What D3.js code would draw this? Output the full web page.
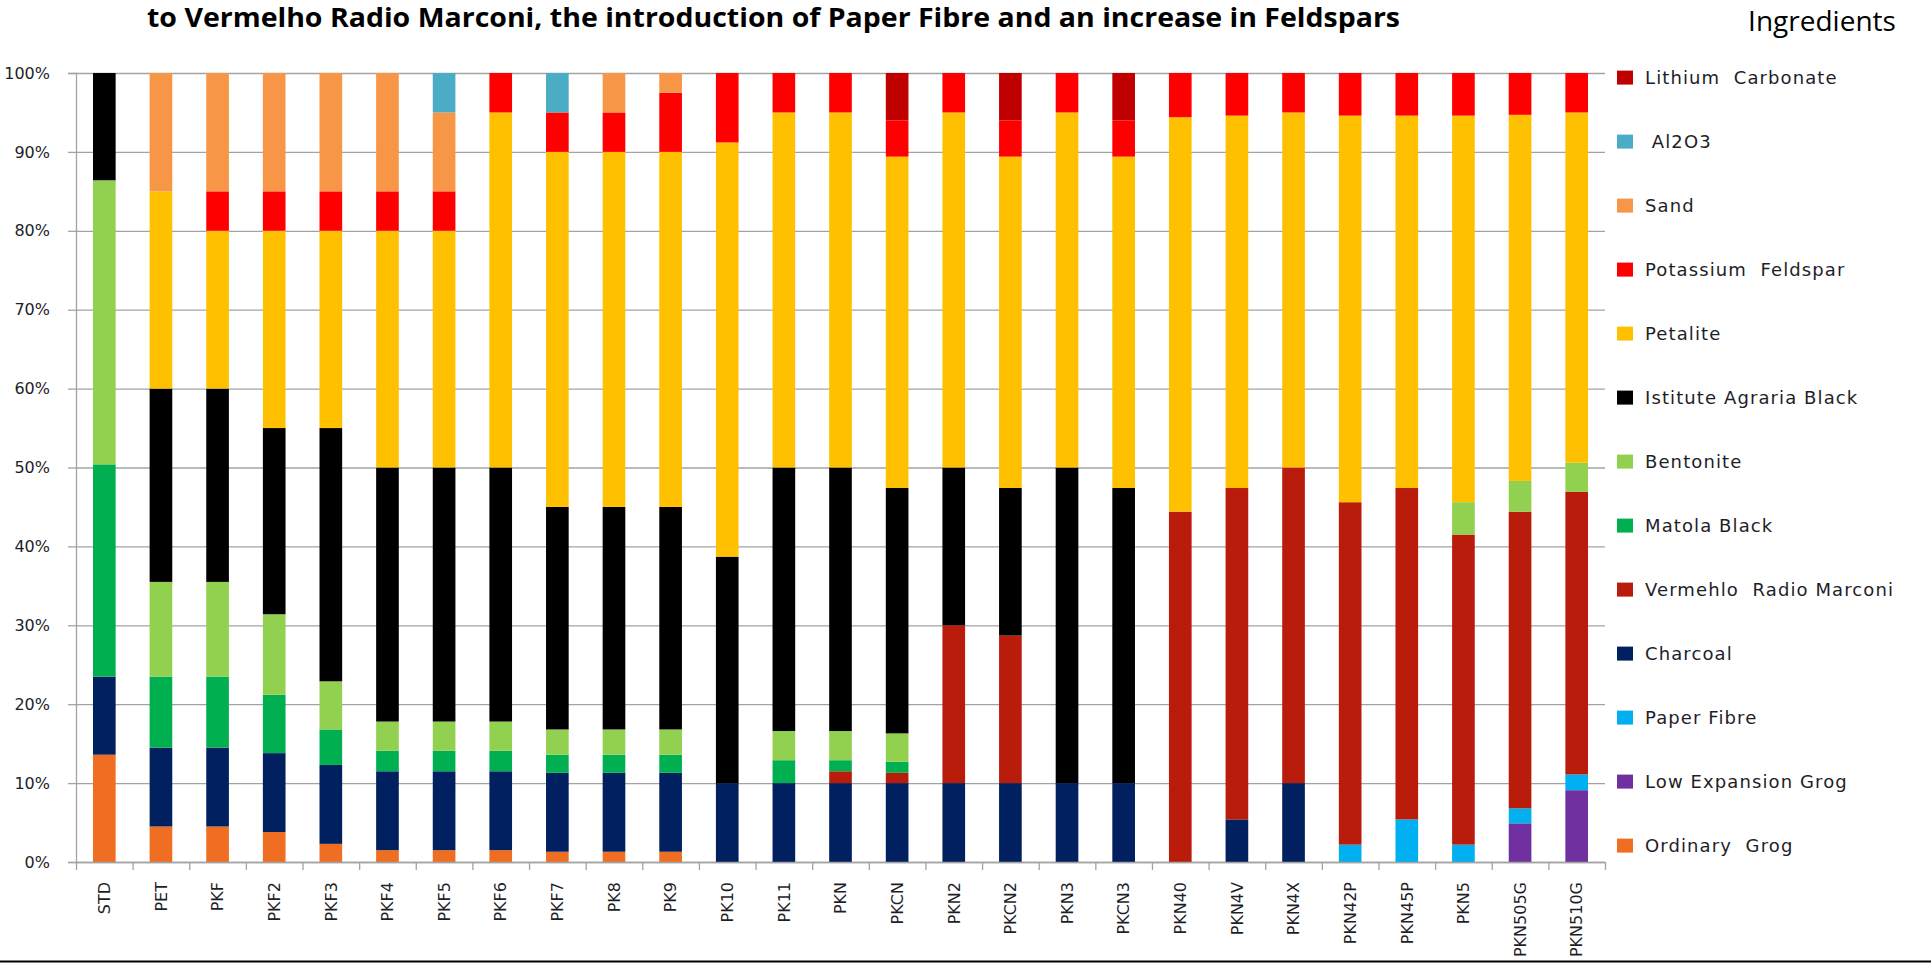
<!DOCTYPE html>
<html>
<head>
<meta charset="utf-8">
<script src="https://cdn.jsdelivr.net/npm/d3@7"></script>
<style>
  html, body { margin: 0; padding: 0; background: #fff; }
  svg { display: block; }
</style>
</head>
<body>
<svg id="chart" width="1931" height="963"></svg>
<script>
// Recipe names (one stacked bar each)
const categories = ["STD","PET","PKF","PKF2","PKF3","PKF4","PKF5","PKF6","PKF7","PK8","PK9","PK10","PK11",
  "PKN","PKCN","PKN2","PKCN2","PKN3","PKCN3","PKN40","PKN4V","PKN4X","PKN42P","PKN45P","PKN5","PKN505G","PKN510G"];

// Ingredient shares (%) per recipe, bottom of the stack first
const ordinaryGrog      = [13.6,4.5,4.5,3.8,2.3,1.5,1.5,1.5,1.3,1.3,1.3,0,0,0,0,0,0,0,0,0,0,0,0,0,0,0,0];
const lowExpansionGrog  = [0,0,0,0,0,0,0,0,0,0,0,0,0,0,0,0,0,0,0,0,0,0,0,0,0,4.9,9.1];
const paperFibre        = [0,0,0,0,0,0,0,0,0,0,0,0,0,0,0,0,0,0,0,0,0,0,2.2,5.4,2.2,1.9,2.0];
const charcoal          = [9.9,10,10,10,10,10,10,10,10,10,10,10,10,10,10,10,10,10,10,0,5.4,10,0,0,0,0,0];
const vermelho          = [0,0,0,0,0,0,0,0,0,0,0,0,0,1.5,1.3,20,18.7,0,0,44.4,42,40,43.4,42,39.3,37.6,35.8];
const matolaBlack       = [26.9,9,9,7.4,4.5,2.6,2.6,2.6,2.3,2.3,2.3,0,2.9,1.4,1.4,0,0,0,0,0,0,0,0,0,0,0,0];
const bentonite         = [36,12,12,10.2,6.1,3.7,3.7,3.7,3.2,3.2,3.2,0,3.7,3.7,3.6,0,0,0,0,0,0,0,0,0,4.1,3.9,3.7];
const agrariaBlack      = [13.6,24.5,24.5,23.6,32.1,32.2,32.2,32.2,28.2,28.2,28.2,28.7,33.4,33.4,31.1,20,18.7,40,37.4,0,0,0,0,0,0,0,0];
const petalite          = [0,25,20,25,25,30,30,45,45,45,45,52.5,45,45,42,45,42,45,42,50,47.2,45,49,47.2,49,46.4,44.4];
const potassiumFeldspar = [0,0,5,5,5,5,5,5,5,5,7.5,8.8,5,5,4.6,5,4.6,5,4.6,5.6,5.4,5,5.4,5.4,5.4,5.3,5];
const sand              = [0,15,15,15,15,15,10,0,0,5,2.5,0,0,0,0,0,0,0,0,0,0,0,0,0,0,0,0];
const al2o3             = [0,0,0,0,0,0,5,0,5,0,0,0,0,0,0,0,0,0,0,0,0,0,0,0,0,0,0];
const lithiumCarbonate  = [0,0,0,0,0,0,0,0,0,0,0,0,0,0,6,0,6,0,6,0,0,0,0,0,0,0,0];

// Series names as shown in the legend, bottom of the stack first
const seriesNames = ["Ordinary  Grog","Low Expansion Grog","Paper Fibre","Charcoal","Vermehlo  Radio Marconi",
  "Matola Black","Bentonite","Istitute Agraria Black","Petalite","Potassium  Feldspar","Sand"," Al2O3","Lithium  Carbonate"];
const seriesValues = [ordinaryGrog,lowExpansionGrog,paperFibre,charcoal,vermelho,matolaBlack,bentonite,
  agrariaBlack,petalite,potassiumFeldspar,sand,al2o3,lithiumCarbonate];
const seriesColors = ["#f06e22","#7030a0","#00b0f0","#002060","#b91c0b","#00b050","#92d050",
  "#000000","#ffc000","#ff0000","#f79646","#4bacc6","#c00000"];

const yTicks = [0,0.1,0.2,0.3,0.4,0.5,0.6,0.7,0.8,0.9,1];

const titleText = "to Vermelho Radio Marconi, the introduction of Paper Fibre and an increase in Feldspars";
const legendTitle = "Ingredients";

// Build the table for d3.stack
const keys = seriesNames.map((_, i) => "s" + i);
const table = categories.map((c, j) => {
  const row = { cat: c };
  keys.forEach((k, i) => row[k] = seriesValues[i][j]);
  return row;
});

const svg = d3.select("#chart");
const plot = { left: 76, right: 1605, top: 73, bottom: 862 };

const x = d3.scaleBand().domain(categories).range([plot.left, plot.right])
  .paddingInner(0.6).paddingOuter(0.3);
const y = d3.scaleLinear().domain([0, 1]).range([plot.bottom, plot.top]);
const color = d3.scaleOrdinal().domain(keys).range(seriesColors);

const stacked = d3.stack().keys(keys).offset(d3.stackOffsetExpand)(table);

const gridColor = "#a3a3a3";

// Horizontal gridlines
const gridAxis = svg.append("g")
  .attr("transform", `translate(${plot.left},0)`)
  .call(d3.axisLeft(y).tickValues(yTicks).tickSizeInner(-(plot.right - plot.left)).tickSizeOuter(0).tickFormat(""));
gridAxis.select(".domain").remove();
gridAxis.selectAll("line").attr("stroke", gridColor).attr("stroke-width", 1.3);

// Value axis with outside tick marks and percentage labels
const yAxis = svg.append("g")
  .attr("transform", `translate(${plot.left},0)`)
  .call(d3.axisLeft(y).tickValues(yTicks).tickSize(8).tickPadding(18).tickFormat(d3.format(".0%")));
yAxis.select(".domain").attr("stroke", gridColor).attr("stroke-width", 1.3);
yAxis.selectAll("line").attr("stroke", gridColor).attr("stroke-width", 1.3);
yAxis.selectAll("text")
  .attr("font-family", "'DejaVu Sans', sans-serif")
  .attr("font-size", 16)
  .attr("fill", "#1e1e28");

// Bars
svg.append("g").selectAll("g")
  .data(stacked)
  .join("g")
    .attr("fill", d => color(d.key))
  .selectAll("rect")
  .data(d => d)
  .join("rect")
    .attr("x", d => x(d.data.cat))
    .attr("width", x.bandwidth())
    .attr("y", d => y(d[1]))
    .attr("height", d => Math.max(0, y(d[0]) - y(d[1])));

// Category boundary ticks on the x axis
const edge = d3.scaleLinear().domain([0, categories.length]).range([plot.left, plot.right]);
const xTickAxis = svg.append("g")
  .attr("transform", `translate(0,${plot.bottom})`)
  .call(d3.axisBottom(edge).tickValues(d3.range(categories.length + 1)).tickSize(8).tickSizeOuter(0).tickFormat(""));
xTickAxis.select(".domain").attr("stroke", gridColor).attr("stroke-width", 1.3);
xTickAxis.selectAll("line").attr("stroke", gridColor).attr("stroke-width", 1.3);

// Rotated category labels
const xAxis = svg.append("g")
  .attr("transform", `translate(0,${plot.bottom})`)
  .call(d3.axisBottom(x).tickSize(0).tickPadding(0));
xAxis.select(".domain").remove();
xAxis.selectAll("text")
  .attr("font-family", "'DejaVu Sans', sans-serif")
  .attr("font-size", 16)
  .attr("fill", "#1e1e28")
  .attr("text-anchor", "end")
  .attr("transform", "translate(0,20) rotate(-90)")
  .attr("x", 0)
  .attr("y", 0)
  .attr("dy", "0.36em");

// Heading line above the plot
svg.append("text")
  .attr("x", 147)
  .attr("y", 27)
  .attr("font-family", "'Open Sans', sans-serif")
  .attr("font-weight", "bold")
  .attr("font-size", 27)
  .attr("fill", "#000")
  .attr("textLength", 1253)
  .attr("lengthAdjust", "spacingAndGlyphs")
  .text(titleText);

// Legend
const legend = svg.append("g").attr("transform", "translate(1617,0)");
legend.append("text")
  .attr("x", 205)
  .attr("y", 31)
  .attr("text-anchor", "middle")
  .attr("font-family", "'Open Sans', sans-serif")
  .attr("font-size", 28)
  .attr("fill", "#000")
  .text(legendTitle);

const order = keys.slice().reverse();
const rows = legend.selectAll("g.item")
  .data(order)
  .join("g")
    .attr("class", "item")
    .attr("transform", (d, i) => `translate(0,${77.6 + i * 64})`);
rows.append("rect")
  .attr("x", 0).attr("y", -7)
  .attr("width", 16).attr("height", 14)
  .attr("fill", d => color(d));
rows.append("text")
  .attr("x", 28)
  .attr("dy", "0.36em")
  .attr("font-family", "'DejaVu Sans', sans-serif")
  .attr("font-size", 18)
  .attr("letter-spacing", 1.1)
  .attr("fill", "#1e1e28")
  .style("white-space", "pre")
  .text(d => seriesNames[keys.indexOf(d)]);

// Bottom border
svg.append("line")
  .attr("x1", 0).attr("x2", 1931)
  .attr("y1", 961.5).attr("y2", 961.5)
  .attr("stroke", "#000").attr("stroke-width", 2);
</script>
</body>
</html>
